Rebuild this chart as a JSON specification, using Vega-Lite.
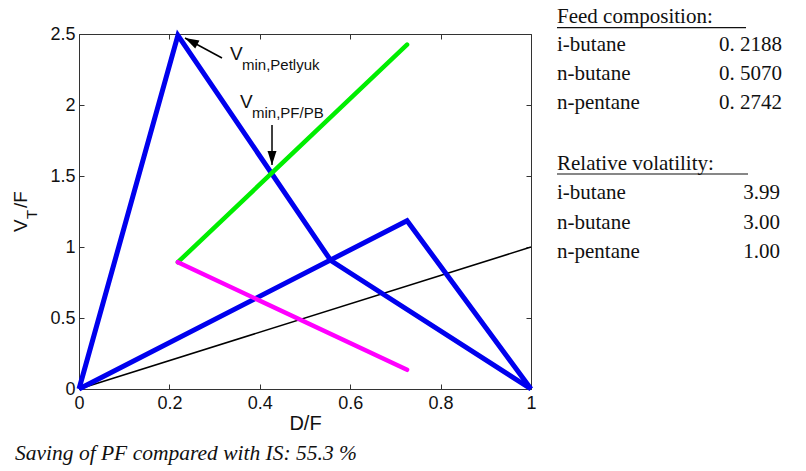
{
  "$schema": "https://vega.github.io/schema/vega-lite/v6.json",
  "width": 452,
  "height": 355,
  "autosize": {"type": "none"},
  "padding": {"left": 79, "top": 34, "right": 275, "bottom": 82},
  "background": "white",
  "config": {
    "view": {"stroke": null},
    "axis": {
      "grid": false,
      "domainColor": "#333333",
      "tickColor": "#333333",
      "domainWidth": 1,
      "tickWidth": 1,
      "labelFont": "Liberation Sans",
      "labelFontSize": 18,
      "labelColor": "#111111",
      "labelFlush": false,
      "labelOverlap": false
    }
  },
  "datasets": {
    "diag": [{"x": 0, "y": 0}, {"x": 1, "y": 1}],
    "blue": [
      {"series": "A", "x": 0, "y": 0},
      {"series": "A", "x": 0.2188, "y": 2.49},
      {"series": "A", "x": 0.557, "y": 0.905},
      {"series": "A", "x": 1, "y": 0},
      {"series": "B", "x": 0, "y": 0},
      {"series": "B", "x": 0.7258, "y": 1.185},
      {"series": "B", "x": 1, "y": 0}
    ],
    "green": [{"x": 0.2188, "y": 0.893}, {"x": 0.7258, "y": 2.425}],
    "magenta": [{"x": 0.2188, "y": 0.893}, {"x": 0.7258, "y": 0.135}],
    "arrows": [
      {"id": "petlyuk", "x": 0.3164, "y": 2.331, "x2": 0.2345, "y2": 2.472},
      {"id": "pf", "x": 0.427, "y": 1.859, "x2": 0.427, "y2": 1.577}
    ],
    "annBig": [
      {"t": "V", "x": 0.334, "y": 2.317},
      {"t": "V", "x": 0.3562, "y": 1.979}
    ],
    "annSmall": [
      {"t": "min,Petlyuk", "x": 0.3606, "y": 2.2465},
      {"t": "min,PF/PB", "x": 0.3827, "y": 1.9085}
    ],
    "yTitleBig": [
      {"t": "V", "x": -0.115, "y": 1.1056},
      {"t": "/F", "x": -0.115, "y": 1.2746}
    ],
    "yTitleSmall": [{"t": "T", "x": -0.0929, "y": 1.197}],
    "headers": [
      {"t": "Feed composition:", "x": 1.0575, "y": 2.575, "lineY": 2.545, "lineEnd": 1.4757},
      {"t": "Relative volatility:", "x": 1.0575, "y": 1.542, "lineY": 1.514, "lineEnd": 1.4801}
    ],
    "table": [
      {"name": "i-butane", "value": "0. 2188", "x": 1.0575, "xr": 1.5553, "y": 2.38},
      {"name": "n-butane", "value": "0. 5070", "x": 1.0575, "xr": 1.5553, "y": 2.176},
      {"name": "n-pentane", "value": "0. 2742", "x": 1.0575, "xr": 1.5553, "y": 1.972},
      {"name": "i-butane", "value": "3.99", "x": 1.0575, "xr": 1.551, "y": 1.338},
      {"name": "n-butane", "value": "3.00", "x": 1.0575, "xr": 1.551, "y": 1.13},
      {"name": "n-pentane", "value": "1.00", "x": 1.0575, "xr": 1.551, "y": 0.922}
    ],
    "note": [{"t": "Saving of PF compared with IS: 55.3 %", "x": -0.1416, "y": -0.5}]
  },
  "layer": [
    {
      "data": {"name": "diag"},
      "mark": {"type": "line", "color": "black", "strokeWidth": 1.5},
      "encoding": {
        "x": {"field": "x", "type": "quantitative", "scale": {"domain": [0, 1], "nice": false},
          "axis": {"orient": "top", "labels": false, "title": null, "values": [0, 0.2, 0.4, 0.6, 0.8, 1], "tickSize": -5}},
        "y": {"field": "y", "type": "quantitative", "scale": {"domain": [0, 2.5], "nice": false},
          "axis": {"orient": "right", "labels": false, "title": null, "values": [0, 0.5, 1, 1.5, 2, 2.5], "tickSize": -5}}
      }
    },
    {
      "data": {"name": "blue"},
      "mark": {"type": "line", "color": "#0000ee", "strokeWidth": 5},
      "encoding": {
        "x": {"field": "x", "type": "quantitative", "scale": {"domain": [0, 1], "nice": false},
          "axis": {"orient": "bottom", "title": "D/F", "values": [0, 0.2, 0.4, 0.6, 0.8, 1], "format": "~g", "tickSize": -5, "labelPadding": 10,
            "titleFont": "Liberation Sans", "titleFontSize": 20, "titleFontWeight": "normal", "titleColor": "#111111", "titlePadding": 1}},
        "y": {"field": "y", "type": "quantitative", "scale": {"domain": [0, 2.5], "nice": false},
          "axis": {"orient": "left", "title": null, "values": [0, 0.5, 1, 1.5, 2, 2.5], "format": "~g", "tickSize": -5, "labelPadding": 9}},
        "detail": {"field": "series", "type": "nominal"}
      }
    },
    {
      "data": {"name": "green"},
      "mark": {"type": "line", "color": "#00ee00", "strokeWidth": 4.5, "strokeCap": "round"},
      "encoding": {
        "x": {"field": "x", "type": "quantitative", "scale": {"domain": [0, 1], "nice": false}, "axis": null},
        "y": {"field": "y", "type": "quantitative", "scale": {"domain": [0, 2.5], "nice": false}, "axis": null}
      }
    },
    {
      "data": {"name": "magenta"},
      "mark": {"type": "line", "color": "#ff00ff", "strokeWidth": 4.5, "strokeCap": "round"},
      "encoding": {
        "x": {"field": "x", "type": "quantitative", "scale": {"domain": [0, 1], "nice": false}, "axis": null},
        "y": {"field": "y", "type": "quantitative", "scale": {"domain": [0, 2.5], "nice": false}, "axis": null}
      }
    },
    {
      "data": {"name": "arrows"},
      "mark": {"type": "rule", "color": "black", "strokeWidth": 1.5},
      "encoding": {
        "x": {"field": "x", "type": "quantitative", "scale": {"domain": [0, 1], "nice": false}, "axis": null},
        "y": {"field": "y", "type": "quantitative", "scale": {"domain": [0, 2.5], "nice": false}, "axis": null},
        "x2": {"field": "x2"},
        "y2": {"field": "y2"}
      }
    },
    {
      "data": {"name": "arrows"},
      "transform": [{"filter": "datum.id === 'petlyuk'"}],
      "mark": {"type": "point", "shape": "M0,0L-0.32,1L0.32,1Z", "filled": true, "color": "black", "opacity": 1, "size": 784, "angle": 298},
      "encoding": {
        "x": {"field": "x2", "type": "quantitative", "scale": {"domain": [0, 1], "nice": false}, "axis": null},
        "y": {"field": "y2", "type": "quantitative", "scale": {"domain": [0, 2.5], "nice": false}, "axis": null}
      }
    },
    {
      "data": {"name": "arrows"},
      "transform": [{"filter": "datum.id === 'pf'"}],
      "mark": {"type": "point", "shape": "M0,0L-0.32,1L0.32,1Z", "filled": true, "color": "black", "opacity": 1, "size": 784, "angle": 180},
      "encoding": {
        "x": {"field": "x2", "type": "quantitative", "scale": {"domain": [0, 1], "nice": false}, "axis": null},
        "y": {"field": "y2", "type": "quantitative", "scale": {"domain": [0, 2.5], "nice": false}, "axis": null}
      }
    },
    {
      "data": {"name": "annBig"},
      "mark": {"type": "text", "font": "Liberation Sans", "fontSize": 19, "align": "left", "baseline": "alphabetic", "color": "#111111"},
      "encoding": {
        "x": {"field": "x", "type": "quantitative", "scale": {"domain": [0, 1], "nice": false}, "axis": null},
        "y": {"field": "y", "type": "quantitative", "scale": {"domain": [0, 2.5], "nice": false}, "axis": null},
        "text": {"field": "t"}
      }
    },
    {
      "data": {"name": "annSmall"},
      "mark": {"type": "text", "font": "Liberation Sans", "fontSize": 15, "align": "left", "baseline": "alphabetic", "color": "#111111"},
      "encoding": {
        "x": {"field": "x", "type": "quantitative", "scale": {"domain": [0, 1], "nice": false}, "axis": null},
        "y": {"field": "y", "type": "quantitative", "scale": {"domain": [0, 2.5], "nice": false}, "axis": null},
        "text": {"field": "t"}
      }
    },
    {
      "data": {"name": "yTitleBig"},
      "mark": {"type": "text", "font": "Liberation Sans", "fontSize": 19, "align": "left", "baseline": "alphabetic", "angle": 270, "color": "#111111"},
      "encoding": {
        "x": {"field": "x", "type": "quantitative", "scale": {"domain": [0, 1], "nice": false}, "axis": null},
        "y": {"field": "y", "type": "quantitative", "scale": {"domain": [0, 2.5], "nice": false}, "axis": null},
        "text": {"field": "t"}
      }
    },
    {
      "data": {"name": "yTitleSmall"},
      "mark": {"type": "text", "font": "Liberation Sans", "fontSize": 15, "align": "left", "baseline": "alphabetic", "angle": 270, "color": "#111111"},
      "encoding": {
        "x": {"field": "x", "type": "quantitative", "scale": {"domain": [0, 1], "nice": false}, "axis": null},
        "y": {"field": "y", "type": "quantitative", "scale": {"domain": [0, 2.5], "nice": false}, "axis": null},
        "text": {"field": "t"}
      }
    },
    {
      "data": {"name": "headers"},
      "mark": {"type": "text", "font": "Liberation Serif", "fontSize": 21, "align": "left", "baseline": "alphabetic", "color": "#111111"},
      "encoding": {
        "x": {"field": "x", "type": "quantitative", "scale": {"domain": [0, 1], "nice": false}, "axis": null},
        "y": {"field": "y", "type": "quantitative", "scale": {"domain": [0, 2.5], "nice": false}, "axis": null},
        "text": {"field": "t"}
      }
    },
    {
      "data": {"name": "headers"},
      "mark": {"type": "rule", "color": "#111111", "strokeWidth": 1.2},
      "encoding": {
        "x": {"field": "x", "type": "quantitative", "scale": {"domain": [0, 1], "nice": false}, "axis": null},
        "x2": {"field": "lineEnd"},
        "y": {"field": "lineY", "type": "quantitative", "scale": {"domain": [0, 2.5], "nice": false}, "axis": null}
      }
    },
    {
      "data": {"name": "table"},
      "mark": {"type": "text", "font": "Liberation Serif", "fontSize": 21, "align": "left", "baseline": "alphabetic", "color": "#111111"},
      "encoding": {
        "x": {"field": "x", "type": "quantitative", "scale": {"domain": [0, 1], "nice": false}, "axis": null},
        "y": {"field": "y", "type": "quantitative", "scale": {"domain": [0, 2.5], "nice": false}, "axis": null},
        "text": {"field": "name"}
      }
    },
    {
      "data": {"name": "table"},
      "mark": {"type": "text", "font": "Liberation Serif", "fontSize": 21, "align": "right", "baseline": "alphabetic", "color": "#111111"},
      "encoding": {
        "x": {"field": "xr", "type": "quantitative", "scale": {"domain": [0, 1], "nice": false}, "axis": null},
        "y": {"field": "y", "type": "quantitative", "scale": {"domain": [0, 2.5], "nice": false}, "axis": null},
        "text": {"field": "value"}
      }
    },
    {
      "data": {"name": "note"},
      "mark": {"type": "text", "font": "Liberation Serif", "fontSize": 21.5, "fontStyle": "italic", "align": "left", "baseline": "alphabetic", "color": "#111111"},
      "encoding": {
        "x": {"field": "x", "type": "quantitative", "scale": {"domain": [0, 1], "nice": false}, "axis": null},
        "y": {"field": "y", "type": "quantitative", "scale": {"domain": [0, 2.5], "nice": false}, "axis": null},
        "text": {"field": "t"}
      }
    }
  ],
  "resolve": {"axis": {"x": "independent", "y": "independent"}}
}
